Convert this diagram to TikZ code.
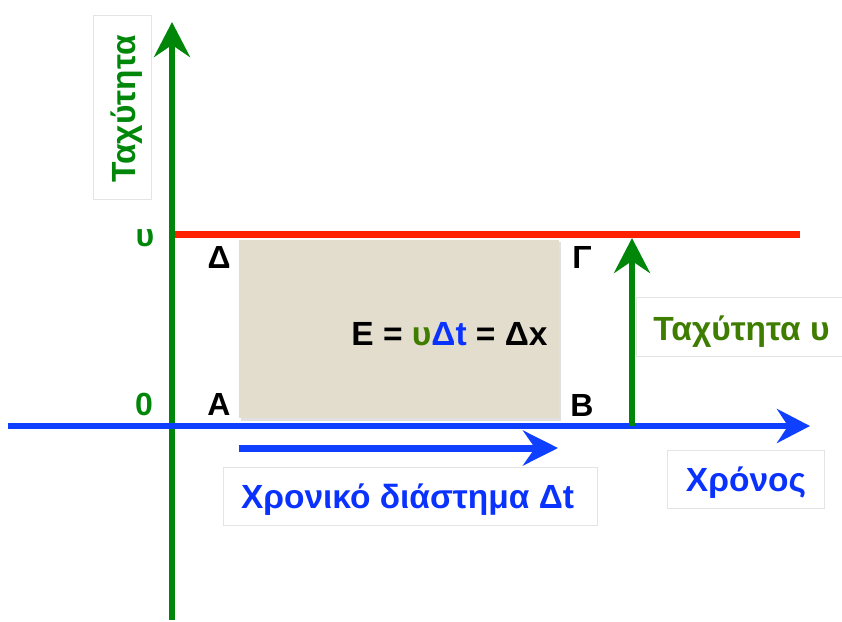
\documentclass[tikz,border=0pt]{standalone}
\usepackage{fontspec}
\setmainfont{Liberation Sans}
\usetikzlibrary{arrows.meta}
\definecolor{axgreen}{RGB}{0,135,10}
\definecolor{olive}{RGB}{63,125,0}
\definecolor{axblue}{RGB}{16,64,255}
\definecolor{txblue}{RGB}{10,50,255}
\definecolor{axred}{RGB}{255,34,0}
\definecolor{beige}{RGB}{227,221,205}
\definecolor{boxgray}{RGB}{228,228,228}
\tikzset{
  bigtip/.style={-{Stealth[length=35pt,width=36pt,inset=12pt]}},
  lbl/.style={font=\fontsize{32}{38}\selectfont\bfseries, inner sep=0pt, anchor=base},
  bigtxt/.style={font=\fontsize{33.5}{40}\selectfont\bfseries, inner sep=0pt, anchor=base},
  tbox/.style={draw=boxgray, line width=1pt, fill=white, inner sep=0pt},
}
\begin{document}
\begin{tikzpicture}[x=1pt,y=-1pt]
\useasboundingbox (0,0) rectangle (842,621);
% label boxes
\node[tbox, minimum width=58pt, minimum height=184pt] (vbox) at (122,107) {};
\node[tbox, minimum width=374pt, minimum height=58pt] (dtbox) at (410,496) {};
\node[tbox, minimum width=157pt, minimum height=58pt] (xbox) at (745.5,479) {};
\node[tbox, minimum width=220pt, minimum height=59pt, anchor=west] (vubox) at (636,326.5) {};
% area rectangle with shadow
\fill[black, opacity=0.12] (241,242) rectangle (561,420.5);
\node[fill=beige, inner sep=0pt, minimum width=320pt, minimum height=178pt, anchor=north west] (area) at (239,240) {};
% axes
\coordinate (ybot) at (172,620);
\coordinate (ytop) at (172,22);
\coordinate (xleft) at (8,426);
\coordinate (xright) at (810,426);
\coordinate (rl) at (175,234.5);
\coordinate (rr) at (800,234.5);
\draw[axred, line width=6.5pt] (rl) -- (rr);
\draw[axgreen, line width=6.5pt, bigtip] (ybot) -- (ytop);
\draw[axblue, line width=6.5pt, -{Stealth[length=33pt,width=34pt,inset=11pt]}] (xleft) -- (xright);
% time interval arrow
\coordinate (dts) at (239,448);
\coordinate (dte) at (558,448);
\draw[axblue, line width=7pt, -{Stealth[length=35pt,width=35pt,inset=12pt]}] (dts) -- (dte);
% velocity arrow
\coordinate (vb) at (632,426);
\coordinate (vt) at (632,238);
\draw[axgreen, line width=6.5pt, bigtip] (vb) -- (vt);
% texts
\node[bigtxt, text=axgreen, rotate=90] (vtxt) at (135,109) {Ταχύτητα};
\node[bigtxt, text=txblue] (dttxt) at (407.5,508) {Χρονικό διάστημα Δt};
\node[bigtxt, text=txblue] (xtxt) at (746,491) {Χρόνος};
\node[bigtxt, text=olive] (vutxt) at (741.5,340) {Ταχύτητα υ};
\node[bigtxt] (formula) at (449.5,345) {E = \textcolor{olive}{υ}\textcolor{txblue}{Δt} = Δx};
% corner labels
\node[lbl] (D) at (219,268) {Δ};
\node[lbl] (G) at (582,268) {Γ};
\node[lbl] (A) at (219,415) {A};
\node[lbl] (B) at (582,416) {B};
\node[lbl, text=axgreen] (u) at (145,246) {υ};
\node[lbl, text=axgreen] (zero) at (144,415) {0};
\end{tikzpicture}
\end{document}
